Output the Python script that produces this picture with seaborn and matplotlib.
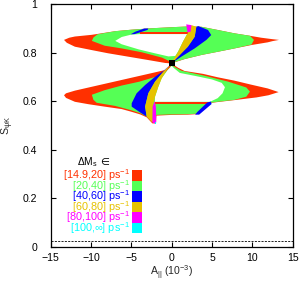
import matplotlib
matplotlib.use("Agg")
import matplotlib.pyplot as plt
import seaborn as sns

# Delta M_s bins, colours and labels
bin_labels = ["[14.9,20] ps$^{-1}$", "[20,40] ps$^{-1}$", "[40,60] ps$^{-1}$",
              "[60,80] ps$^{-1}$", "[80,100] ps$^{-1}$", "[100,$\\infty$] ps$^{-1}$"]
bin_colors = ["#ff3000", "#55ff55", "#0000ff", "#e6c200", "#ff00ff", "#00ffff"]

x_ticks = [-15, -10, -5, 0, 5, 10, 15]
y_ticks = [0, 0.2, 0.4, 0.6, 0.8, 1.0]
y_tick_labels = ["0", "0.2", "0.4", "0.6", "0.8", "1"]

# SM point and lower bound line
sm_point = (0.0, 0.755)
s_bound = 0.024

# regions, (A_par, S_psiK) outlines
# upper lobe
u_red = [(0, 0.755), (-0.8, 0.757), (-2.9, 0.769), (-5.4, 0.783), (-7.9, 0.797), (-9.9, 0.810),
         (-12.0, 0.824), (-13.0, 0.840), (-13.35, 0.852), (-12.7, 0.861), (-12.0, 0.866),
         (-9.9, 0.873), (-7.0, 0.888), (-5.0, 0.894), (-2.5, 0.900), (0.4, 0.905), (1.8, 0.907),
         (3.7, 0.906), (5.7, 0.893), (7.8, 0.879), (9.7, 0.869), (11.1, 0.861), (12.5, 0.855),
         (13.3, 0.852), (12.5, 0.847), (11.9, 0.842), (9.9, 0.831), (7.8, 0.817), (5.7, 0.803),
         (3.7, 0.790), (1.6, 0.773), (0.5, 0.761)]
u_green = [(0, 0.760), (-1.2, 0.779), (-3.7, 0.801), (-6.2, 0.817), (-8.3, 0.828), (-9.9, 0.848),
           (-9.7, 0.862), (-9.2, 0.875), (-7.0, 0.888), (-5.0, 0.894), (-2.5, 0.900), (0.4, 0.905),
           (1.8, 0.907), (3.7, 0.906), (5.7, 0.893), (7.8, 0.879), (9.7, 0.869), (10.2, 0.852),
           (9.9, 0.833), (7.8, 0.817), (5.7, 0.803), (3.7, 0.790), (1.6, 0.773), (0.5, 0.762)]
u_hole = [(-7.0, 0.848), (-6.2, 0.864), (-5.0, 0.874), (-3.9, 0.876), (1.9, 0.876), (1.4, 0.845),
          (0.8, 0.805), (0.45, 0.786), (-0.4, 0.784), (-2.1, 0.797), (-4.1, 0.813), (-6.2, 0.834)]
u_strip = [(-3.9, 0.876), (2.0, 0.876), (2.0, 0.884), (-3.9, 0.884)]
u_sliver = [(-5.1, 0.875), (-4.6, 0.876), (-3.0, 0.893), (-2.9, 0.899), (-3.4, 0.899), (-4.5, 0.886)]
u_blue = [(0, 0.755), (0.16, 0.760), (1.2, 0.783), (2.85, 0.817), (4.3, 0.852), (4.9, 0.872),
          (4.5, 0.893), (3.3, 0.909), (3.05, 0.906), (2.85, 0.865), (2.0, 0.824), (1.0, 0.790),
          (0.16, 0.762)]
u_yellow = [(0, 0.755), (0.16, 0.762), (1.0, 0.790), (2.0, 0.824), (2.85, 0.865), (3.05, 0.906),
            (2.45, 0.913), (2.1, 0.886), (1.4, 0.845), (0.8, 0.803), (0.04, 0.762)]
u_magenta = [(1.8, 0.916), (2.45, 0.913), (2.35, 0.886), (1.95, 0.883)]

# lower lobe
l_red = [(0, 0.755), (0.8, 0.737), (1.6, 0.724), (3.9, 0.712), (5.7, 0.698), (7.8, 0.684),
         (9.8, 0.668), (11.9, 0.652), (13.25, 0.637), (12.0, 0.624), (10.5, 0.615), (9.5, 0.611),
         (7.8, 0.604), (5.7, 0.596), (4.8, 0.592), (3.1, 0.546), (2.0, 0.544), (0, 0.543),
         (-1.9, 0.540), (-1.95, 0.508), (-2.4, 0.508), (-3.1, 0.533), (-3.9, 0.545), (-5.0, 0.556),
         (-6.2, 0.567), (-8.3, 0.577), (-10.3, 0.587), (-12.0, 0.597), (-13.1, 0.613),
         (-13.35, 0.624), (-13.1, 0.632), (-12.0, 0.643), (-9.5, 0.662), (-6.2, 0.687),
         (-2.9, 0.712), (-0.8, 0.728)]
l_green = [(0, 0.748), (-0.8, 0.718), (-2.0, 0.700), (-4.0, 0.680), (-6.2, 0.664), (-8.3, 0.645),
           (-9.9, 0.626), (-9.7, 0.605), (-9.3, 0.593), (-7.0, 0.580), (-5.0, 0.562), (-3.9, 0.550),
           (-3.1, 0.537), (-2.5, 0.518), (-2.0, 0.512), (-1.9, 0.543), (0, 0.545), (2.0, 0.546),
           (3.1, 0.548), (4.8, 0.593), (5.7, 0.597), (7.8, 0.605), (9.25, 0.618), (9.7, 0.639),
           (9.25, 0.656), (7.0, 0.680), (4.0, 0.705), (1.2, 0.725), (0.4, 0.740)]
l_hole = [(0, 0.745), (0.3, 0.735), (1.0, 0.716), (3.0, 0.703), (5.0, 0.689), (6.2, 0.675),
          (6.6, 0.657), (6.3, 0.632), (5.7, 0.612), (4.75, 0.597), (-2.1, 0.597), (-2.07, 0.618),
          (-1.66, 0.659), (-1.24, 0.694), (-0.5, 0.728)]
l_strip = [(-2.1, 0.587), (4.75, 0.587), (4.75, 0.597), (-2.1, 0.597)]
l_sliver = [(2.9, 0.544), (3.4, 0.544), (4.95, 0.588), (4.85, 0.598), (4.4, 0.594), (3.2, 0.556)]
l_blue = [(0, 0.755), (-1.04, 0.724), (-2.07, 0.700), (-3.3, 0.666), (-4.35, 0.632), (-4.96, 0.591),
          (-4.96, 0.577), (-3.9, 0.553), (-3.1, 0.536), (-3.3, 0.577), (-2.9, 0.632),
          (-2.07, 0.680), (-1.04, 0.721)]
l_yellow = [(0, 0.755), (-1.04, 0.721), (-2.07, 0.680), (-2.9, 0.632), (-3.3, 0.577), (-3.1, 0.536),
            (-2.5, 0.515), (-2.36, 0.512), (-2.36, 0.577), (-2.07, 0.618), (-1.66, 0.659),
            (-1.24, 0.694), (-0.3, 0.745)]
l_magenta = [(-2.36, 0.578), (-2.4, 0.512), (-2.0, 0.506), (-1.92, 0.512), (-1.95, 0.575), (-2.1, 0.600)]
l_cyan = [(-2.05, 0.506), (-1.92, 0.506), (-1.92, 0.514), (-2.02, 0.514)]

# legend block
legend_title = "ΔM$_s$"
legend_title_pos = (-9.2, 0.350)
legend_in_pos = (-8.85, 0.350)
legend_text_x = -5.2
legend_box_x = -4.34
legend_box_w = 1.24
legend_top = 0.316
legend_step = 0.0435

sns.set_style("ticks")
plt.rcParams['font.family'] = ['Liberation Sans', 'DejaVu Sans']
plt.rcParams['mathtext.fontset'] = 'custom'
plt.rcParams['mathtext.rm'] = 'Liberation Sans'
plt.rcParams['mathtext.it'] = 'Liberation Sans:italic'
plt.rcParams['mathtext.default'] = 'regular'

fig = plt.figure(figsize=(3.0, 2.81), dpi=100)
ax = fig.add_axes([0.169, 0.1221, 0.8067, 0.8637])

white = "#ffffff"
layers = [(u_red, bin_colors[0]), (l_red, bin_colors[0]),
          (u_green, bin_colors[1]), (l_green, bin_colors[1]),
          (u_hole, white), (l_hole, white),
          (u_strip, bin_colors[0]), (l_strip, bin_colors[0]),
          (u_blue, bin_colors[2]), (l_blue, bin_colors[2]),
          (u_yellow, bin_colors[3]), (l_yellow, bin_colors[3]),
          (u_magenta, bin_colors[4]), (l_magenta, bin_colors[4]),
          (l_cyan, bin_colors[5]),
          (u_sliver, bin_colors[2]), (l_sliver, bin_colors[2])]
for poly, col in layers:
    ax.fill([p[0] for p in poly], [p[1] for p in poly], color=col, lw=0, zorder=2)

sns.scatterplot(x=[sm_point[0]], y=[sm_point[1]], marker='s', s=16, color='black',
                linewidth=0, ax=ax, zorder=5)

ax.axhline(s_bound, color='black', lw=0.6, ls=(0, (2.5, 1.5)), zorder=1)

# legend squares and texts
ax.text(legend_title_pos[0], legend_title_pos[1], legend_title, ha='right', va='center',
        fontsize=7.4, color='black')
ax.text(legend_in_pos[0], legend_in_pos[1], "∈", ha='left', va='center',
        fontsize=7.4, color='black', family='DejaVu Sans')
for i, (lab, col) in enumerate(zip(bin_labels, bin_colors)):
    bottom = legend_top - legend_step * (i + 1)
    ax.bar(legend_box_x, legend_step, width=legend_box_w, bottom=bottom, color=col, lw=0, zorder=3)
    ax.text(legend_text_x, bottom + legend_step / 2, lab, ha='right', va='center',
            fontsize=7.8, color=col)

ax.set_xlim(-15, 15)
ax.set_ylim(0, 1)
ax.set_xticks(x_ticks)
ax.set_yticks(y_ticks, labels=y_tick_labels)
ax.tick_params(direction='in', top=True, right=True, length=3.6, width=0.8,
               labelsize=7.6, color='black', labelcolor='black')
ax.tick_params(axis='y', pad=9.5)
ax.tick_params(axis='x', pad=4.5)
for sp in ax.spines.values():
    sp.set_visible(True)
    sp.set_color('black')
    sp.set_linewidth(0.9)

ax.set_xlabel("A$_{||}$ (10$^{-3}$)", fontsize=7.6)
ax.set_ylabel("S$_{\\psi K}$", fontsize=7.6)
ax.xaxis.set_label_coords(0.5, -0.11)
ax.xaxis.label.set_va('center')
ax.yaxis.set_label_coords(-0.176, 0.5)
ax.yaxis.label.set_va('center')

fig.savefig("out.png", dpi=100)
